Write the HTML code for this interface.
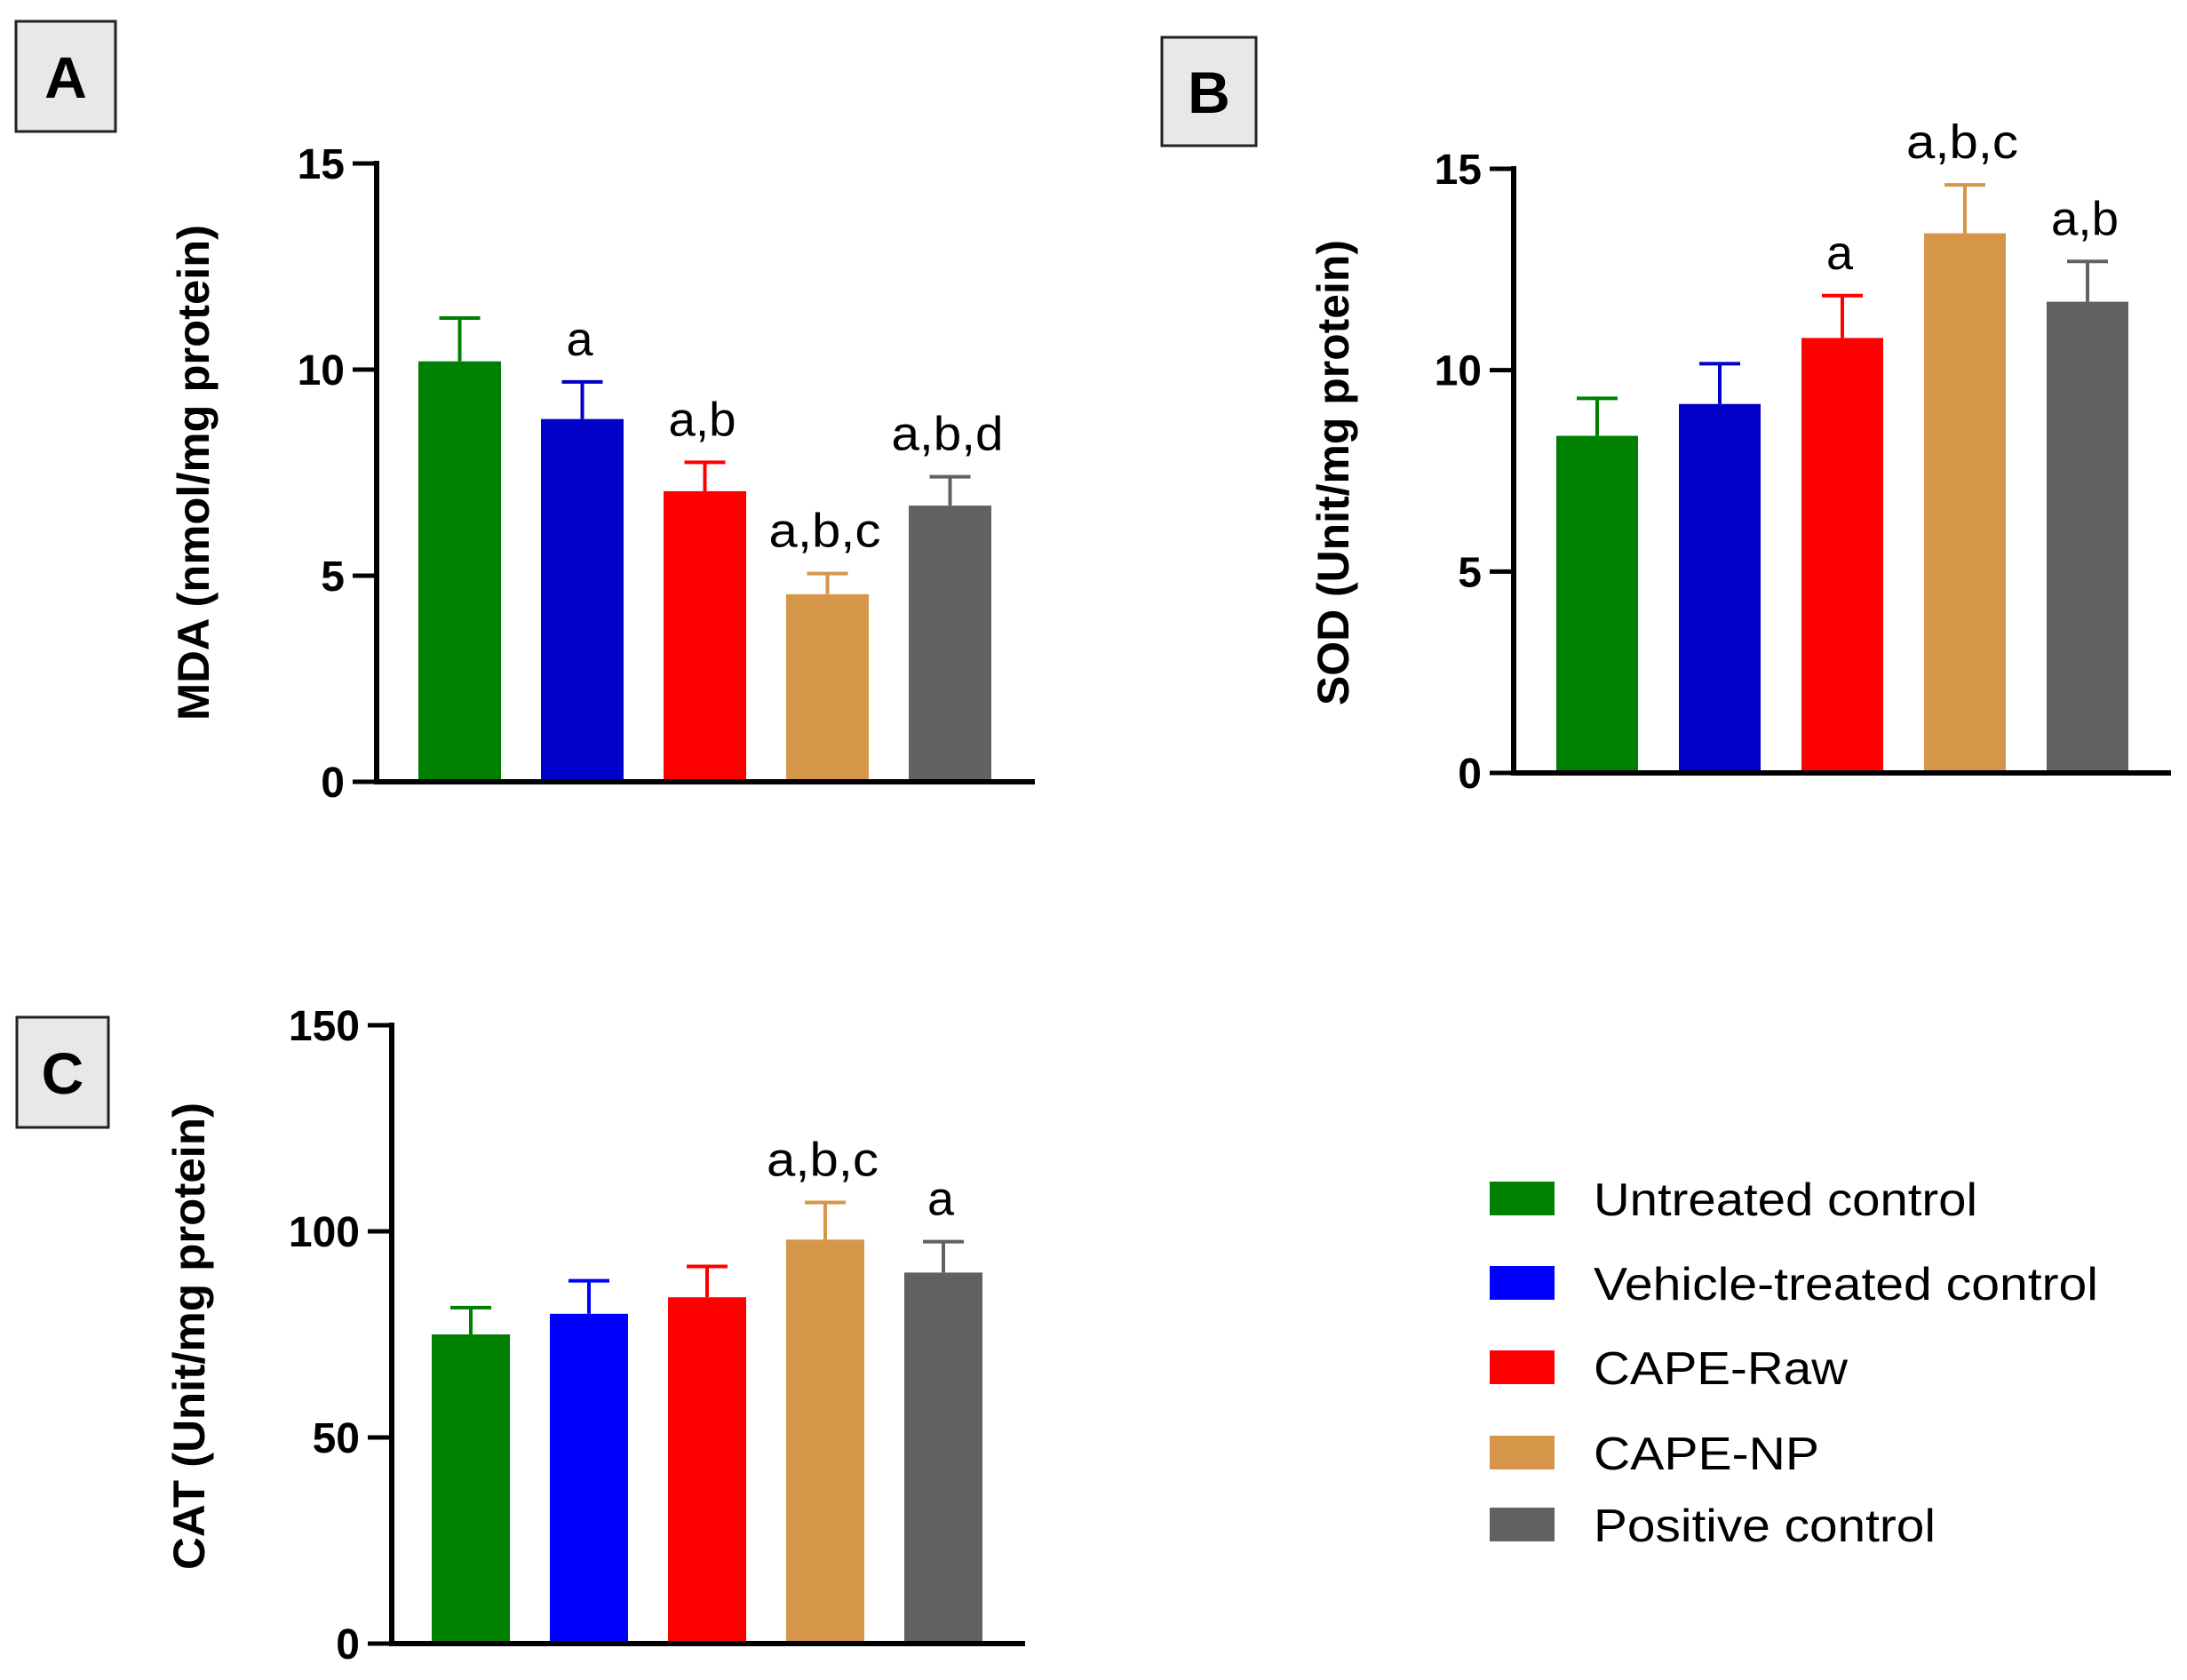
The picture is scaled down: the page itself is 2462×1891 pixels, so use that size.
<!DOCTYPE html>
<html><head><meta charset="utf-8"><style>
html,body{margin:0;padding:0;background:#fff;}
svg{display:block;font-family:"Liberation Sans",Arial,sans-serif;}
</style></head><body>
<svg id="fig" width="2462" height="1891" viewBox="0 0 2462 1891" xmlns="http://www.w3.org/2000/svg">
</svg>
<script>
const groups = ["Untreated control","Vehicle-treated control","CAPE-Raw","CAPE-NP","Positive control"];
const mdaValues = [10.2, 8.8, 7.05, 4.55, 6.7];
const mdaErrors = [1.05, 0.9, 0.7, 0.5, 0.7];
const mdaSig = ["", "a", "a,b", "a,b,c", "a,b,d"];
const sodValues = [8.37, 9.16, 10.8, 13.4, 11.7];
const sodErrors = [0.93, 1.0, 1.05, 1.2, 1.0];
const sodSig = ["", "", "a", "a,b,c", "a,b"];
const catValues = [75, 80, 84, 98, 90];
const catErrors = [6.5, 8, 7.5, 9, 7.5];
const catSig = ["", "", "", "a,b,c", "a"];
const ticks15 = [0, 5, 10, 15];
const ticks150 = [0, 50, 100, 150];

const NS = "http://www.w3.org/2000/svg";
const svg = document.getElementById("fig");
function mk(tag, attrs, parent) {
  const e = document.createElementNS(NS, tag);
  for (const k in attrs) e.setAttribute(k, attrs[k]);
  (parent || svg).appendChild(e);
  return e;
}
const colorsA = ["#008000","#0000C8","#FF0000","#D6964A","#616161"];
const colorsC = ["#008000","#0000FF","#FF0000","#D6964A","#616161"];

function panel(cfg) {
  const g = mk("g", {});
  
  
  const y = v => cfg.y0 - (v / cfg.max) * (cfg.y0 - cfg.yTop);
  cfg.values.forEach((v, i) => {
    const x = cfg.barX0 + i * cfg.step;
    const cx = x + cfg.barW / 2;
    const col = cfg.colors[i];
    const err = mk("g", {stroke: col, "stroke-width": 4, fill: "none"}, g);
    
    
    mk("line", {x1: cx, x2: cx, y1: y(v), y2: y(v + cfg.errors[i])}, err);
    mk("line", {x1: cx - 23, x2: cx + 23, y1: y(v + cfg.errors[i]), y2: y(v + cfg.errors[i])}, err);
    const r = mk("rect", {x: x, y: y(v), width: cfg.barW, height: cfg.y0 - y(v), fill: col}, g);
    
    
    if (cfg.sig[i]) {
      const t = mk("text", {x: cx - 3, y: y(v + cfg.errors[i]) - 30, "text-anchor": "middle", "font-size": 54, fill: "#000"}, g);
      t.textContent = cfg.sig[i];
      if (cfg.sig[i].length > 1) { t.setAttribute("textLength", cfg.sig[i].length * 25 + 1); t.setAttribute("lengthAdjust", "spacingAndGlyphs"); }
      
      
    }
  });
  const ax = mk("path", {d: `M${cfg.axX} ${cfg.yTop} V${cfg.y0} H${cfg.axEnd}`, stroke: "#000", "stroke-width": 6, fill: "none", "stroke-linecap": "square"}, g);
  
  
  cfg.ticks.forEach(tv => {
    mk("line", {x1: cfg.axX - 27, x2: cfg.axX, y1: y(tv), y2: y(tv), stroke: "#000", "stroke-width": 5}, g);
    const t = mk("text", {x: cfg.axX - 36, y: y(tv) + 17, "text-anchor": "end", "font-size": 48, "font-weight": "bold"}, g);
    t.textContent = tv;
    
    
  });
  const tt = mk("text", {transform: `translate(${cfg.titleX},${cfg.titleY}) rotate(-90)`, "text-anchor": "middle", "font-size": 50, "font-weight": "bold", textLength: cfg.titleLen, lengthAdjust: "spacingAndGlyphs"}, g);
  tt.textContent = cfg.title;
  
  
  const b = mk("rect", {x: cfg.box[0], y: cfg.box[1], width: cfg.box[2], height: cfg.box[3], fill: "#E8E8E8", stroke: "#222", "stroke-width": 3}, g);
  
  
  const bl = mk("text", {x: cfg.box[0] + cfg.box[2] / 2, y: cfg.box[1] + cfg.box[3] / 2 + 24, "text-anchor": "middle", "font-size": 66, "font-weight": "bold"}, g);
  bl.textContent = cfg.letter;
  
  
}

panel({name: "panel-a-mda", values: mdaValues, errors: mdaErrors, sig: mdaSig, colors: colorsA, max: 15, ticks: ticks15,
  y0: 880, yTop: 184, axX: 424, axEnd: 1162, barX0: 471, barW: 93, step: 138,
  title: "MDA (nmol/mg protein)", titleX: 235, titleY: 532, titleLen: 558, box: [18, 24, 112, 124], letter: "A"});
panel({name: "panel-b-sod", values: sodValues, errors: sodErrors, sig: sodSig, colors: colorsA, max: 15, ticks: ticks15,
  y0: 870, yTop: 190, axX: 1704, axEnd: 2441, barX0: 1752, barW: 92, step: 138,
  title: "SOD (Unit/mg protein)", titleX: 1518, titleY: 532, titleLen: 524, box: [1308, 42, 106, 122], letter: "B"});
panel({name: "panel-c-cat", values: catValues, errors: catErrors, sig: catSig, colors: colorsC, max: 150, ticks: ticks150,
  y0: 1850, yTop: 1154, axX: 441, axEnd: 1151, barX0: 486, barW: 88, step: 133,
  title: "CAT (Unit/mg protein)", titleX: 230, titleY: 1504, titleLen: 526, box: [19, 1145, 103, 124], letter: "C"});

const legendY = [1349, 1444, 1539, 1635, 1716];
const legendW = [432, 568, 286, 254, 385];
const lg = mk("g", {});


groups.forEach((name, i) => {
  const r = mk("rect", {x: 1677, y: legendY[i] - 19, width: 73, height: 38, fill: colorsC[i]}, lg);
  
  
  const t = mk("text", {x: 1794, y: legendY[i] + 19, "font-size": 52, textLength: legendW[i], lengthAdjust: "spacingAndGlyphs"}, lg);
  t.textContent = name;
  
  
});
</script>
</body></html>
